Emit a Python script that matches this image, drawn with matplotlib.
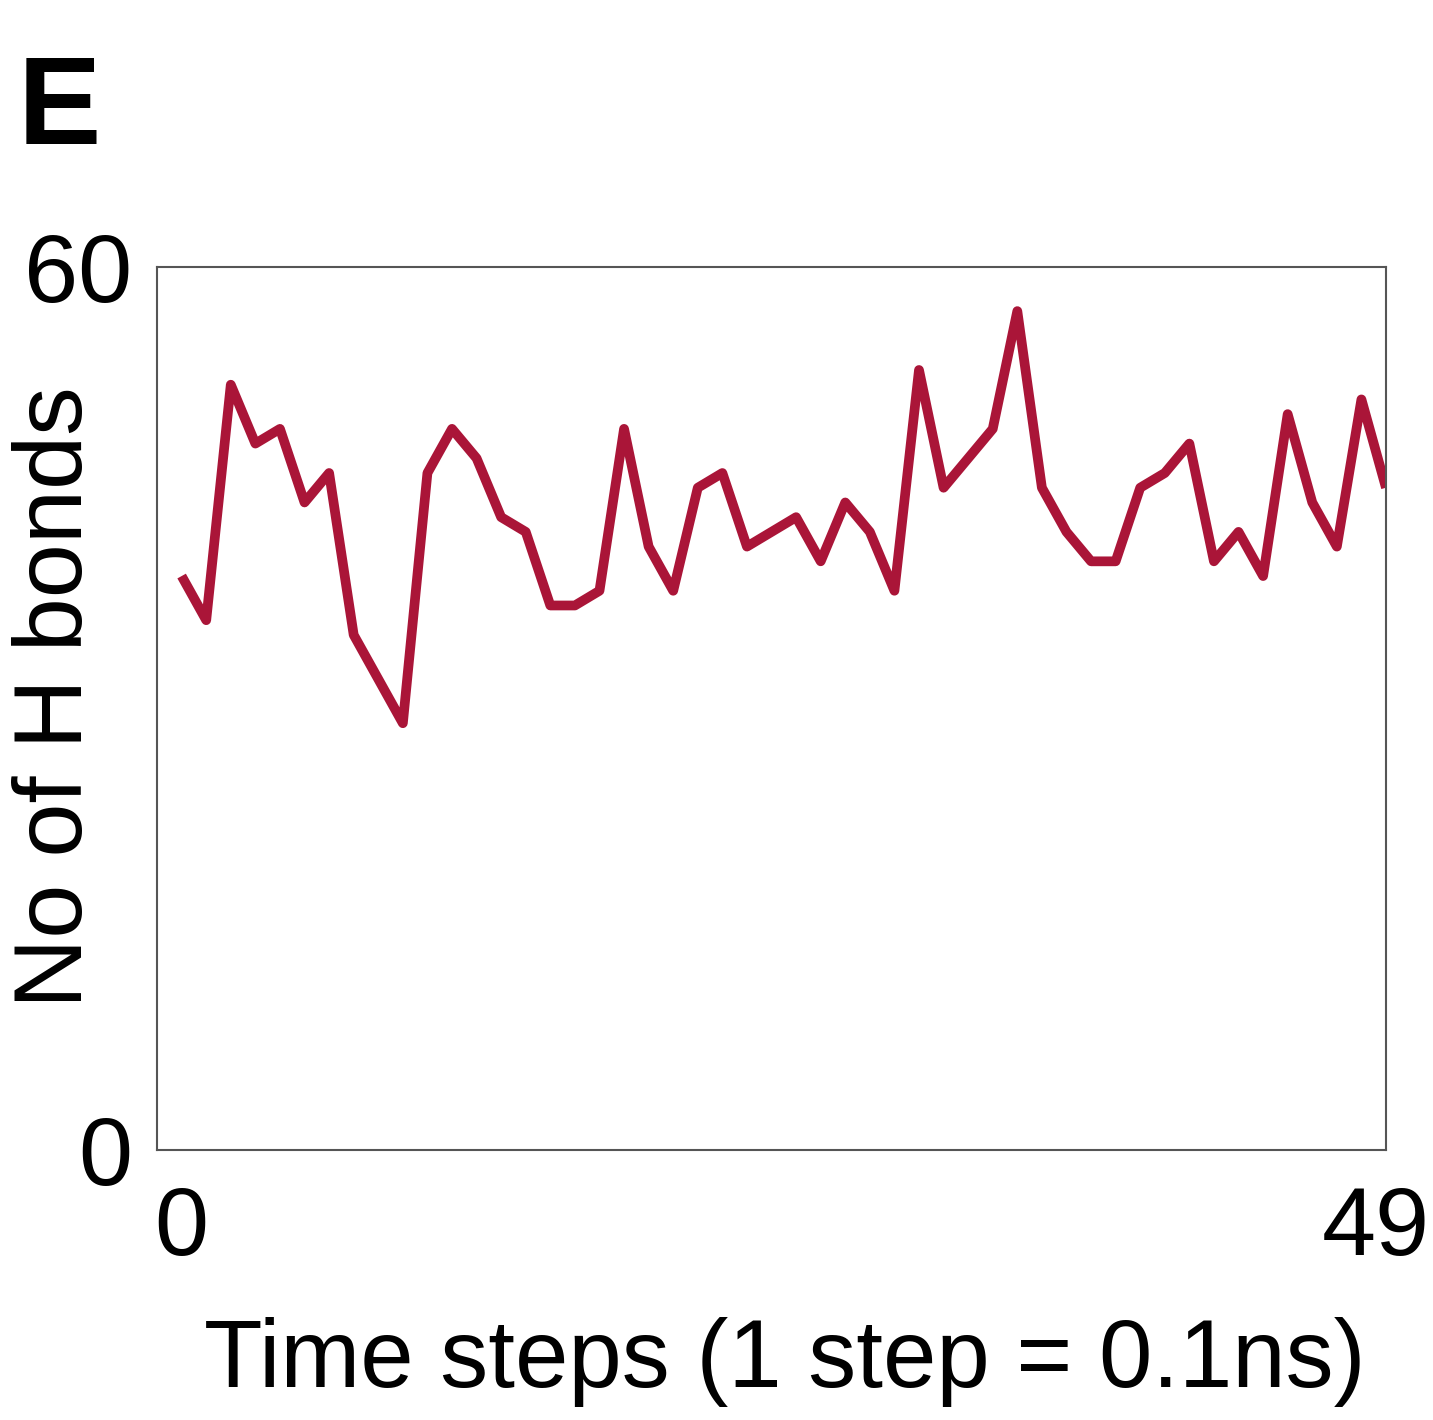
import matplotlib
matplotlib.use("Agg")
import matplotlib.pyplot as plt
import matplotlib.transforms as mtransforms

plt.rcParams['font.family'] = ['Liberation Sans', 'DejaVu Sans']

time_steps = list(range(50))
h_bonds = [39, 36, 52, 48, 49, 44, 46, 35, 32, 29,
           46, 49, 47, 43, 42, 37, 37, 38, 49, 41,
           38, 45, 46, 41, 42, 43, 40, 44, 42, 38,
           53, 45, 47, 49, 57, 45, 42, 40, 40, 45,
           46, 48, 40, 42, 39, 50, 44, 41, 51, 45]
x_ticks = [0, 49]
y_ticks = [0, 60]

fig = plt.figure(figsize=(14.33, 14.2), dpi=100)
ax = fig.add_axes([0.1096, 0.1901, 0.9672 - 0.1096, 0.8120 - 0.1901])

ax.plot(time_steps, h_bonds, color='#AA1538', linewidth=7.0,
        solid_joinstyle='round', solid_capstyle='butt')

ax.set_xlim(-1, 49)
ax.set_ylim(0, 60)
ax.set_xticks(x_ticks)
ax.set_yticks(y_ticks)
ax.tick_params(axis='both', length=0, labelsize=70)
ax.tick_params(axis='x', pad=25)
ax.tick_params(axis='y', pad=18)
for s in ax.spines.values():
    s.set_color('#555555')
    s.set_linewidth(1.5)

# shift the last x tick label left so it stays inside the figure
last = ax.get_xticklabels()[-1]
last.set_transform(last.get_transform() +
                   mtransforms.ScaledTranslation(-10 / 100, 0, fig.dpi_scale_trans))

ax.set_xlabel('Time steps (1 step = 0.1ns)', fontsize=69)
ax.xaxis.set_label_coords((785 - 157) / (1386 - 157), -(1362 - 1150) / (1150 - 267))
ax.xaxis.label.set_va('center')

fig.text(57 / 1433, 1 - 697 / 1420, 'No of H bonds', fontsize=70,
         rotation=90, ha='center', va='center')

fig.text(0.012, 0.962, 'E', fontsize=90, fontweight='bold', va='top', ha='left')

fig.savefig('out.png', dpi=100, facecolor='white')
